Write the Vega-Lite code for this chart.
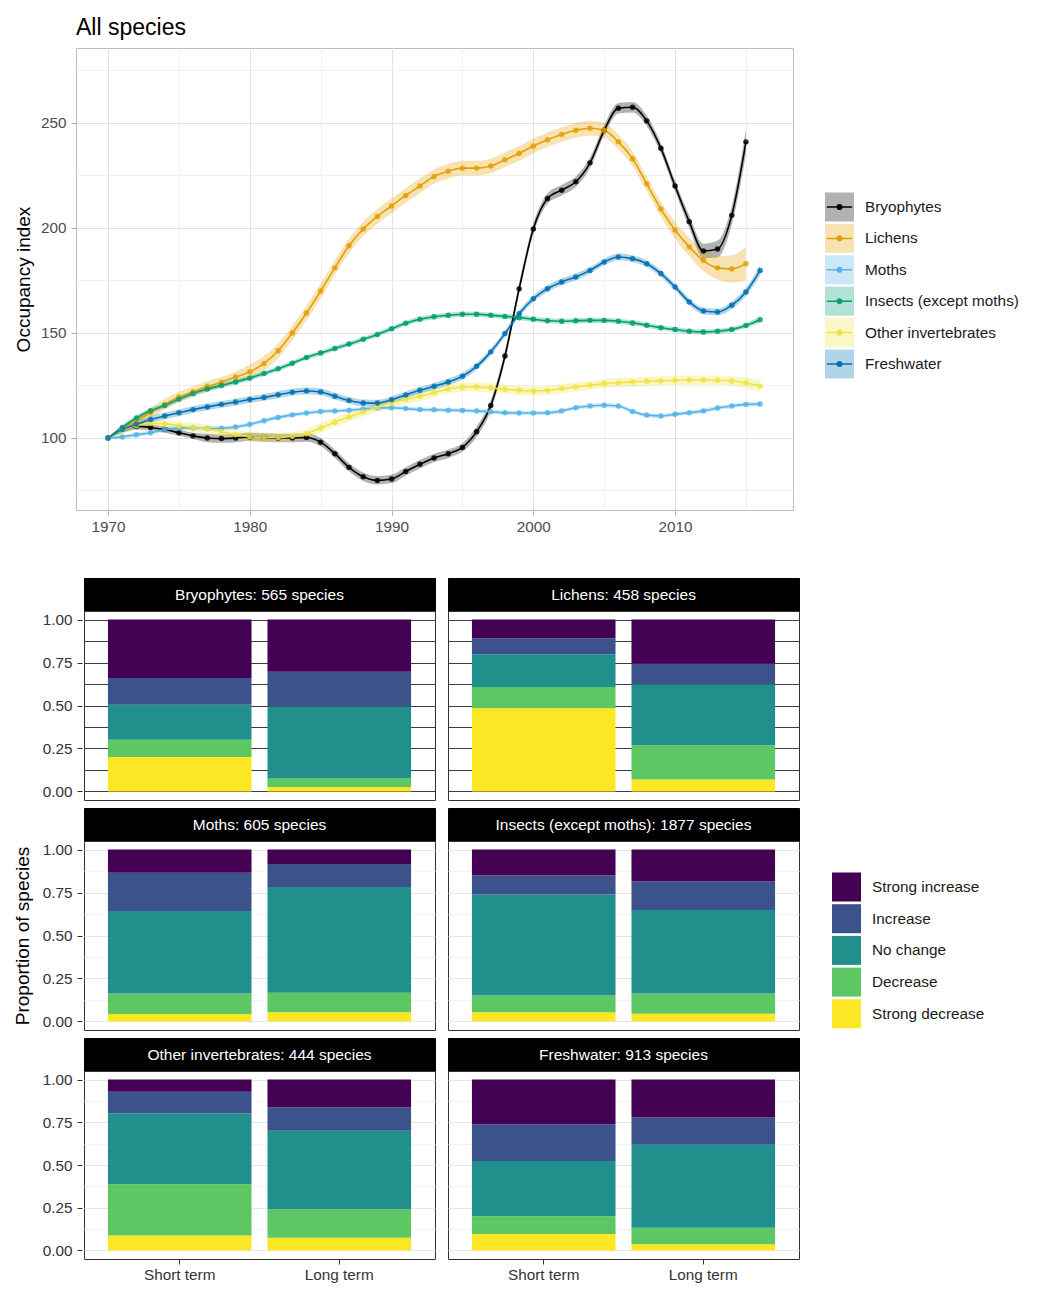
{
"$schema": "https://vega.github.io/schema/vega-lite/v6.json",
"background": "white",
"padding": {"left": 13, "top": 16, "right": 4, "bottom": 4},
"config": {
  "font": "Liberation Sans",
  "view": {"stroke": "#333333"},
  "axis": {"labelFont": "Liberation Sans", "titleFont": "Liberation Sans", "domain": false},
  "legend": {"labelFont": "Liberation Sans"},
  "title": {"font": "Liberation Sans"}
},
"datasets": {
"trend": [
{"s":"Bryophytes","yr":1970,"v":100,"lo":100,"hi":100},
{"s":"Bryophytes","yr":1971,"v":104,"lo":102.5,"hi":105.5},
{"s":"Bryophytes","yr":1972,"v":105.5,"lo":104,"hi":107},
{"s":"Bryophytes","yr":1973,"v":105,"lo":103.5,"hi":106.5},
{"s":"Bryophytes","yr":1974,"v":104,"lo":102.5,"hi":105.5},
{"s":"Bryophytes","yr":1975,"v":102.5,"lo":101,"hi":104},
{"s":"Bryophytes","yr":1976,"v":101,"lo":99.5,"hi":102.5},
{"s":"Bryophytes","yr":1977,"v":100,"lo":98,"hi":102},
{"s":"Bryophytes","yr":1978,"v":99.7,"lo":97.7,"hi":101.7},
{"s":"Bryophytes","yr":1979,"v":100,"lo":98,"hi":102},
{"s":"Bryophytes","yr":1980,"v":100.5,"lo":98.5,"hi":102.5},
{"s":"Bryophytes","yr":1981,"v":100.2,"lo":98.2,"hi":102.2},
{"s":"Bryophytes","yr":1982,"v":100,"lo":98,"hi":102},
{"s":"Bryophytes","yr":1983,"v":100,"lo":98,"hi":102},
{"s":"Bryophytes","yr":1984,"v":100.2,"lo":98.2,"hi":102.2},
{"s":"Bryophytes","yr":1985,"v":98,"lo":96,"hi":100},
{"s":"Bryophytes","yr":1986,"v":92.5,"lo":90.5,"hi":94.5},
{"s":"Bryophytes","yr":1987,"v":86,"lo":84,"hi":88},
{"s":"Bryophytes","yr":1988,"v":81.5,"lo":79.5,"hi":83.5},
{"s":"Bryophytes","yr":1989,"v":79.8,"lo":77.8,"hi":81.8},
{"s":"Bryophytes","yr":1990,"v":80.5,"lo":78.5,"hi":82.5},
{"s":"Bryophytes","yr":1991,"v":84,"lo":82,"hi":86},
{"s":"Bryophytes","yr":1992,"v":87.5,"lo":85.5,"hi":89.5},
{"s":"Bryophytes","yr":1993,"v":90.5,"lo":88.5,"hi":92.5},
{"s":"Bryophytes","yr":1994,"v":92.5,"lo":90.5,"hi":94.5},
{"s":"Bryophytes","yr":1995,"v":95.5,"lo":93.5,"hi":97.5},
{"s":"Bryophytes","yr":1996,"v":103,"lo":100.5,"hi":105.5},
{"s":"Bryophytes","yr":1997,"v":115.5,"lo":113,"hi":118},
{"s":"Bryophytes","yr":1998,"v":139,"lo":136.5,"hi":141.5},
{"s":"Bryophytes","yr":1999,"v":171,"lo":168.5,"hi":173.5},
{"s":"Bryophytes","yr":2000,"v":199.5,"lo":197,"hi":202},
{"s":"Bryophytes","yr":2001,"v":214,"lo":211.5,"hi":216.5},
{"s":"Bryophytes","yr":2002,"v":218,"lo":215.5,"hi":220.5},
{"s":"Bryophytes","yr":2003,"v":222,"lo":219.5,"hi":224.5},
{"s":"Bryophytes","yr":2004,"v":231,"lo":228.5,"hi":233.5},
{"s":"Bryophytes","yr":2005,"v":246.5,"lo":244,"hi":249},
{"s":"Bryophytes","yr":2006,"v":257,"lo":254.5,"hi":259.5},
{"s":"Bryophytes","yr":2007,"v":257.5,"lo":255,"hi":260},
{"s":"Bryophytes","yr":2008,"v":251,"lo":248.5,"hi":253.5},
{"s":"Bryophytes","yr":2009,"v":238,"lo":235.5,"hi":240.5},
{"s":"Bryophytes","yr":2010,"v":220,"lo":217.5,"hi":222.5},
{"s":"Bryophytes","yr":2011,"v":203,"lo":200,"hi":206},
{"s":"Bryophytes","yr":2012,"v":189,"lo":185.5,"hi":192.5},
{"s":"Bryophytes","yr":2013,"v":190,"lo":186,"hi":194},
{"s":"Bryophytes","yr":2014,"v":206,"lo":201.5,"hi":210.5},
{"s":"Bryophytes","yr":2015,"v":241,"lo":235,"hi":247},
{"s":"Lichens","yr":1970,"v":100,"lo":100,"hi":100},
{"s":"Lichens","yr":1971,"v":104,"lo":102.5,"hi":105.5},
{"s":"Lichens","yr":1972,"v":108,"lo":105.5,"hi":110.5},
{"s":"Lichens","yr":1973,"v":112,"lo":109.5,"hi":114.5},
{"s":"Lichens","yr":1974,"v":116,"lo":113.5,"hi":118.5},
{"s":"Lichens","yr":1975,"v":119.5,"lo":117,"hi":122},
{"s":"Lichens","yr":1976,"v":122,"lo":119.5,"hi":124.5},
{"s":"Lichens","yr":1977,"v":124.5,"lo":122,"hi":127},
{"s":"Lichens","yr":1978,"v":126.5,"lo":124,"hi":129},
{"s":"Lichens","yr":1979,"v":129,"lo":126.5,"hi":131.5},
{"s":"Lichens","yr":1980,"v":131.5,"lo":128,"hi":135},
{"s":"Lichens","yr":1981,"v":135.5,"lo":132,"hi":139},
{"s":"Lichens","yr":1982,"v":141.5,"lo":138,"hi":145},
{"s":"Lichens","yr":1983,"v":150,"lo":146.5,"hi":153.5},
{"s":"Lichens","yr":1984,"v":159.5,"lo":156,"hi":163},
{"s":"Lichens","yr":1985,"v":170,"lo":166.5,"hi":173.5},
{"s":"Lichens","yr":1986,"v":181,"lo":177.5,"hi":184.5},
{"s":"Lichens","yr":1987,"v":191.5,"lo":188,"hi":195},
{"s":"Lichens","yr":1988,"v":199.5,"lo":196,"hi":203},
{"s":"Lichens","yr":1989,"v":205.5,"lo":202,"hi":209},
{"s":"Lichens","yr":1990,"v":210.5,"lo":207,"hi":214},
{"s":"Lichens","yr":1991,"v":215.5,"lo":212,"hi":219},
{"s":"Lichens","yr":1992,"v":220,"lo":216.5,"hi":223.5},
{"s":"Lichens","yr":1993,"v":224.5,"lo":221,"hi":228},
{"s":"Lichens","yr":1994,"v":227,"lo":223.5,"hi":230.5},
{"s":"Lichens","yr":1995,"v":228.5,"lo":225,"hi":232},
{"s":"Lichens","yr":1996,"v":228.5,"lo":225,"hi":232},
{"s":"Lichens","yr":1997,"v":229.5,"lo":226,"hi":233},
{"s":"Lichens","yr":1998,"v":232.5,"lo":229,"hi":236},
{"s":"Lichens","yr":1999,"v":235.5,"lo":232,"hi":239},
{"s":"Lichens","yr":2000,"v":239,"lo":235.5,"hi":242.5},
{"s":"Lichens","yr":2001,"v":242,"lo":238.5,"hi":245.5},
{"s":"Lichens","yr":2002,"v":244.5,"lo":241,"hi":248},
{"s":"Lichens","yr":2003,"v":246.5,"lo":243,"hi":250},
{"s":"Lichens","yr":2004,"v":247.5,"lo":244,"hi":251},
{"s":"Lichens","yr":2005,"v":246.5,"lo":243,"hi":250},
{"s":"Lichens","yr":2006,"v":241,"lo":237.5,"hi":244.5},
{"s":"Lichens","yr":2007,"v":233,"lo":229.5,"hi":236.5},
{"s":"Lichens","yr":2008,"v":221,"lo":217.5,"hi":224.5},
{"s":"Lichens","yr":2009,"v":209,"lo":205.5,"hi":212.5},
{"s":"Lichens","yr":2010,"v":199,"lo":195,"hi":203},
{"s":"Lichens","yr":2011,"v":191,"lo":186.5,"hi":195.5},
{"s":"Lichens","yr":2012,"v":184.5,"lo":179.5,"hi":189.5},
{"s":"Lichens","yr":2013,"v":181,"lo":175.5,"hi":186.5},
{"s":"Lichens","yr":2014,"v":180.5,"lo":174,"hi":187},
{"s":"Lichens","yr":2015,"v":183,"lo":175,"hi":191},
{"s":"Moths","yr":1970,"v":100,"lo":100,"hi":100},
{"s":"Moths","yr":1971,"v":100.5,"lo":99.5,"hi":101.5},
{"s":"Moths","yr":1972,"v":101.5,"lo":100.5,"hi":102.5},
{"s":"Moths","yr":1973,"v":102.5,"lo":101.5,"hi":103.5},
{"s":"Moths","yr":1974,"v":104,"lo":103,"hi":105},
{"s":"Moths","yr":1975,"v":104.8,"lo":103.8,"hi":105.8},
{"s":"Moths","yr":1976,"v":104.8,"lo":103.8,"hi":105.8},
{"s":"Moths","yr":1977,"v":104.5,"lo":103.5,"hi":105.5},
{"s":"Moths","yr":1978,"v":104.6,"lo":103.6,"hi":105.6},
{"s":"Moths","yr":1979,"v":105.2,"lo":104.2,"hi":106.2},
{"s":"Moths","yr":1980,"v":106.5,"lo":105.5,"hi":107.5},
{"s":"Moths","yr":1981,"v":108.2,"lo":107.2,"hi":109.2},
{"s":"Moths","yr":1982,"v":109.8,"lo":108.8,"hi":110.8},
{"s":"Moths","yr":1983,"v":111,"lo":110,"hi":112},
{"s":"Moths","yr":1984,"v":111.9,"lo":110.9,"hi":112.9},
{"s":"Moths","yr":1985,"v":112.6,"lo":111.6,"hi":113.6},
{"s":"Moths","yr":1986,"v":112.9,"lo":111.9,"hi":113.9},
{"s":"Moths","yr":1987,"v":113.2,"lo":112.2,"hi":114.2},
{"s":"Moths","yr":1988,"v":113.8,"lo":112.8,"hi":114.8},
{"s":"Moths","yr":1989,"v":114.3,"lo":113.3,"hi":115.3},
{"s":"Moths","yr":1990,"v":114.4,"lo":113.4,"hi":115.4},
{"s":"Moths","yr":1991,"v":114,"lo":113,"hi":115},
{"s":"Moths","yr":1992,"v":113.5,"lo":112.5,"hi":114.5},
{"s":"Moths","yr":1993,"v":113.4,"lo":112.4,"hi":114.4},
{"s":"Moths","yr":1994,"v":113.2,"lo":112.2,"hi":114.2},
{"s":"Moths","yr":1995,"v":113.1,"lo":112.1,"hi":114.1},
{"s":"Moths","yr":1996,"v":112.9,"lo":111.9,"hi":113.9},
{"s":"Moths","yr":1997,"v":112.5,"lo":111.5,"hi":113.5},
{"s":"Moths","yr":1998,"v":112,"lo":111,"hi":113},
{"s":"Moths","yr":1999,"v":111.9,"lo":110.9,"hi":112.9},
{"s":"Moths","yr":2000,"v":111.9,"lo":110.9,"hi":112.9},
{"s":"Moths","yr":2001,"v":112,"lo":111,"hi":113},
{"s":"Moths","yr":2002,"v":112.9,"lo":111.9,"hi":113.9},
{"s":"Moths","yr":2003,"v":114.4,"lo":113.4,"hi":115.4},
{"s":"Moths","yr":2004,"v":115.2,"lo":114.2,"hi":116.2},
{"s":"Moths","yr":2005,"v":115.6,"lo":114.6,"hi":116.6},
{"s":"Moths","yr":2006,"v":115.2,"lo":114.2,"hi":116.2},
{"s":"Moths","yr":2007,"v":112.6,"lo":111.6,"hi":113.6},
{"s":"Moths","yr":2008,"v":110.9,"lo":109.9,"hi":111.9},
{"s":"Moths","yr":2009,"v":110.5,"lo":109.5,"hi":111.5},
{"s":"Moths","yr":2010,"v":111.3,"lo":110.3,"hi":112.3},
{"s":"Moths","yr":2011,"v":112,"lo":111,"hi":113},
{"s":"Moths","yr":2012,"v":112.9,"lo":111.9,"hi":113.9},
{"s":"Moths","yr":2013,"v":114.3,"lo":113.3,"hi":115.3},
{"s":"Moths","yr":2014,"v":115.2,"lo":114.2,"hi":116.2},
{"s":"Moths","yr":2015,"v":116,"lo":115,"hi":117},
{"s":"Moths","yr":2016,"v":116.2,"lo":115,"hi":117.4},
{"s":"Insects (except moths)","yr":1970,"v":100,"lo":100,"hi":100},
{"s":"Insects (except moths)","yr":1971,"v":105,"lo":103.8,"hi":106.2},
{"s":"Insects (except moths)","yr":1972,"v":109.5,"lo":108.3,"hi":110.7},
{"s":"Insects (except moths)","yr":1973,"v":113,"lo":111.8,"hi":114.2},
{"s":"Insects (except moths)","yr":1974,"v":115.5,"lo":114.3,"hi":116.7},
{"s":"Insects (except moths)","yr":1975,"v":118.5,"lo":117.3,"hi":119.7},
{"s":"Insects (except moths)","yr":1976,"v":121.2,"lo":120,"hi":122.4},
{"s":"Insects (except moths)","yr":1977,"v":123.3,"lo":122.1,"hi":124.5},
{"s":"Insects (except moths)","yr":1978,"v":125,"lo":123.8,"hi":126.2},
{"s":"Insects (except moths)","yr":1979,"v":126.7,"lo":125.5,"hi":127.9},
{"s":"Insects (except moths)","yr":1980,"v":128.5,"lo":127.3,"hi":129.7},
{"s":"Insects (except moths)","yr":1981,"v":130.7,"lo":129.5,"hi":131.9},
{"s":"Insects (except moths)","yr":1982,"v":133,"lo":131.8,"hi":134.2},
{"s":"Insects (except moths)","yr":1983,"v":135.6,"lo":134.4,"hi":136.8},
{"s":"Insects (except moths)","yr":1984,"v":138.3,"lo":137.1,"hi":139.5},
{"s":"Insects (except moths)","yr":1985,"v":140.5,"lo":139.3,"hi":141.7},
{"s":"Insects (except moths)","yr":1986,"v":142.6,"lo":141.4,"hi":143.8},
{"s":"Insects (except moths)","yr":1987,"v":144.7,"lo":143.5,"hi":145.9},
{"s":"Insects (except moths)","yr":1988,"v":147,"lo":145.8,"hi":148.2},
{"s":"Insects (except moths)","yr":1989,"v":149.3,"lo":148.1,"hi":150.5},
{"s":"Insects (except moths)","yr":1990,"v":152,"lo":150.8,"hi":153.2},
{"s":"Insects (except moths)","yr":1991,"v":154.6,"lo":153.4,"hi":155.8},
{"s":"Insects (except moths)","yr":1992,"v":156.5,"lo":155.3,"hi":157.7},
{"s":"Insects (except moths)","yr":1993,"v":157.7,"lo":156.5,"hi":158.9},
{"s":"Insects (except moths)","yr":1994,"v":158.4,"lo":157.2,"hi":159.6},
{"s":"Insects (except moths)","yr":1995,"v":158.9,"lo":157.7,"hi":160.1},
{"s":"Insects (except moths)","yr":1996,"v":158.9,"lo":157.7,"hi":160.1},
{"s":"Insects (except moths)","yr":1997,"v":158.4,"lo":157.2,"hi":159.6},
{"s":"Insects (except moths)","yr":1998,"v":157.9,"lo":156.7,"hi":159.1},
{"s":"Insects (except moths)","yr":1999,"v":157.3,"lo":156.1,"hi":158.5},
{"s":"Insects (except moths)","yr":2000,"v":156.5,"lo":155.3,"hi":157.7},
{"s":"Insects (except moths)","yr":2001,"v":155.8,"lo":154.6,"hi":157},
{"s":"Insects (except moths)","yr":2002,"v":155.6,"lo":154.4,"hi":156.8},
{"s":"Insects (except moths)","yr":2003,"v":155.8,"lo":154.6,"hi":157},
{"s":"Insects (except moths)","yr":2004,"v":156,"lo":154.8,"hi":157.2},
{"s":"Insects (except moths)","yr":2005,"v":156,"lo":154.8,"hi":157.2},
{"s":"Insects (except moths)","yr":2006,"v":155.6,"lo":154.4,"hi":156.8},
{"s":"Insects (except moths)","yr":2007,"v":154.8,"lo":153.6,"hi":156},
{"s":"Insects (except moths)","yr":2008,"v":153.7,"lo":152.5,"hi":154.9},
{"s":"Insects (except moths)","yr":2009,"v":152.5,"lo":151.3,"hi":153.7},
{"s":"Insects (except moths)","yr":2010,"v":151.6,"lo":150.4,"hi":152.8},
{"s":"Insects (except moths)","yr":2011,"v":150.8,"lo":149.6,"hi":152},
{"s":"Insects (except moths)","yr":2012,"v":150.5,"lo":149.3,"hi":151.7},
{"s":"Insects (except moths)","yr":2013,"v":150.8,"lo":149.6,"hi":152},
{"s":"Insects (except moths)","yr":2014,"v":151.7,"lo":150.5,"hi":152.9},
{"s":"Insects (except moths)","yr":2015,"v":153.6,"lo":152.4,"hi":154.8},
{"s":"Insects (except moths)","yr":2016,"v":156.3,"lo":154.8,"hi":157.8},
{"s":"Other invertebrates","yr":1970,"v":100,"lo":100,"hi":100},
{"s":"Other invertebrates","yr":1971,"v":103.7,"lo":101.9,"hi":105.5},
{"s":"Other invertebrates","yr":1972,"v":105.8,"lo":104,"hi":107.6},
{"s":"Other invertebrates","yr":1973,"v":107,"lo":105.2,"hi":108.8},
{"s":"Other invertebrates","yr":1974,"v":106.8,"lo":105,"hi":108.6},
{"s":"Other invertebrates","yr":1975,"v":105.8,"lo":104,"hi":107.6},
{"s":"Other invertebrates","yr":1976,"v":105,"lo":102.8,"hi":107.2},
{"s":"Other invertebrates","yr":1977,"v":104.3,"lo":102.1,"hi":106.5},
{"s":"Other invertebrates","yr":1978,"v":103,"lo":100.8,"hi":105.2},
{"s":"Other invertebrates","yr":1979,"v":101.5,"lo":99.3,"hi":103.7},
{"s":"Other invertebrates","yr":1980,"v":100.6,"lo":98.4,"hi":102.8},
{"s":"Other invertebrates","yr":1981,"v":100.2,"lo":98,"hi":102.4},
{"s":"Other invertebrates","yr":1982,"v":100.2,"lo":98,"hi":102.4},
{"s":"Other invertebrates","yr":1983,"v":100.8,"lo":98.6,"hi":103},
{"s":"Other invertebrates","yr":1984,"v":102,"lo":99.8,"hi":104.2},
{"s":"Other invertebrates","yr":1985,"v":104.8,"lo":102.6,"hi":107},
{"s":"Other invertebrates","yr":1986,"v":107.5,"lo":105.3,"hi":109.7},
{"s":"Other invertebrates","yr":1987,"v":110,"lo":107.8,"hi":112.2},
{"s":"Other invertebrates","yr":1988,"v":112.4,"lo":110.2,"hi":114.6},
{"s":"Other invertebrates","yr":1989,"v":114.7,"lo":112.5,"hi":116.9},
{"s":"Other invertebrates","yr":1990,"v":116.7,"lo":114.5,"hi":118.9},
{"s":"Other invertebrates","yr":1991,"v":118.3,"lo":116.1,"hi":120.5},
{"s":"Other invertebrates","yr":1992,"v":119.8,"lo":117.6,"hi":122},
{"s":"Other invertebrates","yr":1993,"v":121.6,"lo":119.4,"hi":123.8},
{"s":"Other invertebrates","yr":1994,"v":123.3,"lo":121.1,"hi":125.5},
{"s":"Other invertebrates","yr":1995,"v":124.2,"lo":122,"hi":126.4},
{"s":"Other invertebrates","yr":1996,"v":124.3,"lo":122.1,"hi":126.5},
{"s":"Other invertebrates","yr":1997,"v":123.8,"lo":121.6,"hi":126},
{"s":"Other invertebrates","yr":1998,"v":123.2,"lo":121,"hi":125.4},
{"s":"Other invertebrates","yr":1999,"v":122.7,"lo":120.5,"hi":124.9},
{"s":"Other invertebrates","yr":2000,"v":122.4,"lo":120.2,"hi":124.6},
{"s":"Other invertebrates","yr":2001,"v":122.7,"lo":120.5,"hi":124.9},
{"s":"Other invertebrates","yr":2002,"v":123.5,"lo":121.3,"hi":125.7},
{"s":"Other invertebrates","yr":2003,"v":124.3,"lo":122.1,"hi":126.5},
{"s":"Other invertebrates","yr":2004,"v":125.1,"lo":122.9,"hi":127.3},
{"s":"Other invertebrates","yr":2005,"v":125.9,"lo":123.7,"hi":128.1},
{"s":"Other invertebrates","yr":2006,"v":126.3,"lo":124.1,"hi":128.5},
{"s":"Other invertebrates","yr":2007,"v":126.7,"lo":124.5,"hi":128.9},
{"s":"Other invertebrates","yr":2008,"v":127,"lo":124.8,"hi":129.2},
{"s":"Other invertebrates","yr":2009,"v":127.2,"lo":125,"hi":129.4},
{"s":"Other invertebrates","yr":2010,"v":127.5,"lo":125.3,"hi":129.7},
{"s":"Other invertebrates","yr":2011,"v":127.6,"lo":125.4,"hi":129.8},
{"s":"Other invertebrates","yr":2012,"v":127.6,"lo":125.4,"hi":129.8},
{"s":"Other invertebrates","yr":2013,"v":127.5,"lo":125.3,"hi":129.7},
{"s":"Other invertebrates","yr":2014,"v":127.1,"lo":124.9,"hi":129.3},
{"s":"Other invertebrates","yr":2015,"v":126.2,"lo":123.6,"hi":128.8},
{"s":"Other invertebrates","yr":2016,"v":124.8,"lo":121.8,"hi":127.8},
{"s":"Freshwater","yr":1970,"v":100,"lo":100,"hi":100},
{"s":"Freshwater","yr":1971,"v":104,"lo":102.4,"hi":105.6},
{"s":"Freshwater","yr":1972,"v":106.5,"lo":104.9,"hi":108.1},
{"s":"Freshwater","yr":1973,"v":108.8,"lo":107.2,"hi":110.4},
{"s":"Freshwater","yr":1974,"v":110.5,"lo":108.9,"hi":112.1},
{"s":"Freshwater","yr":1975,"v":112,"lo":110.4,"hi":113.6},
{"s":"Freshwater","yr":1976,"v":113.5,"lo":111.9,"hi":115.1},
{"s":"Freshwater","yr":1977,"v":114.8,"lo":113.2,"hi":116.4},
{"s":"Freshwater","yr":1978,"v":116,"lo":114.4,"hi":117.6},
{"s":"Freshwater","yr":1979,"v":117.1,"lo":115.5,"hi":118.7},
{"s":"Freshwater","yr":1980,"v":118.3,"lo":116.7,"hi":119.9},
{"s":"Freshwater","yr":1981,"v":119.3,"lo":117.7,"hi":120.9},
{"s":"Freshwater","yr":1982,"v":120.6,"lo":119,"hi":122.2},
{"s":"Freshwater","yr":1983,"v":121.8,"lo":120.2,"hi":123.4},
{"s":"Freshwater","yr":1984,"v":122.4,"lo":120.8,"hi":124},
{"s":"Freshwater","yr":1985,"v":121.9,"lo":120.3,"hi":123.5},
{"s":"Freshwater","yr":1986,"v":119.9,"lo":118.3,"hi":121.5},
{"s":"Freshwater","yr":1987,"v":117.9,"lo":116.3,"hi":119.5},
{"s":"Freshwater","yr":1988,"v":116.7,"lo":115.1,"hi":118.3},
{"s":"Freshwater","yr":1989,"v":116.6,"lo":115,"hi":118.2},
{"s":"Freshwater","yr":1990,"v":118.2,"lo":116.6,"hi":119.8},
{"s":"Freshwater","yr":1991,"v":120.5,"lo":118.9,"hi":122.1},
{"s":"Freshwater","yr":1992,"v":122.7,"lo":121.1,"hi":124.3},
{"s":"Freshwater","yr":1993,"v":124.6,"lo":123,"hi":126.2},
{"s":"Freshwater","yr":1994,"v":126.7,"lo":125.1,"hi":128.3},
{"s":"Freshwater","yr":1995,"v":129.4,"lo":127.8,"hi":131},
{"s":"Freshwater","yr":1996,"v":134.1,"lo":132.5,"hi":135.7},
{"s":"Freshwater","yr":1997,"v":141,"lo":139.4,"hi":142.6},
{"s":"Freshwater","yr":1998,"v":149.7,"lo":148.1,"hi":151.3},
{"s":"Freshwater","yr":1999,"v":159.2,"lo":157.6,"hi":160.8},
{"s":"Freshwater","yr":2000,"v":166.3,"lo":164.7,"hi":167.9},
{"s":"Freshwater","yr":2001,"v":171.1,"lo":169.5,"hi":172.7},
{"s":"Freshwater","yr":2002,"v":174.3,"lo":172.7,"hi":175.9},
{"s":"Freshwater","yr":2003,"v":176.7,"lo":175.1,"hi":178.3},
{"s":"Freshwater","yr":2004,"v":179.8,"lo":178.2,"hi":181.4},
{"s":"Freshwater","yr":2005,"v":183.8,"lo":182.2,"hi":185.4},
{"s":"Freshwater","yr":2006,"v":186.2,"lo":184.6,"hi":187.8},
{"s":"Freshwater","yr":2007,"v":185.4,"lo":183.8,"hi":187},
{"s":"Freshwater","yr":2008,"v":183,"lo":181.4,"hi":184.6},
{"s":"Freshwater","yr":2009,"v":178.3,"lo":176.7,"hi":179.9},
{"s":"Freshwater","yr":2010,"v":171.9,"lo":170.3,"hi":173.5},
{"s":"Freshwater","yr":2011,"v":164.8,"lo":163.2,"hi":166.4},
{"s":"Freshwater","yr":2012,"v":160.5,"lo":158.9,"hi":162.1},
{"s":"Freshwater","yr":2013,"v":160,"lo":158.4,"hi":161.6},
{"s":"Freshwater","yr":2014,"v":163.2,"lo":161.4,"hi":165},
{"s":"Freshwater","yr":2015,"v":169.5,"lo":167.5,"hi":171.5},
{"s":"Freshwater","yr":2016,"v":179.8,"lo":177.3,"hi":182.3}
],
"bars": [
{"g":"Bryophytes","t":"Short term","c":"Strong decrease","k":1,"p":0.2},
{"g":"Bryophytes","t":"Short term","c":"Decrease","k":2,"p":0.1},
{"g":"Bryophytes","t":"Short term","c":"No change","k":3,"p":0.205},
{"g":"Bryophytes","t":"Short term","c":"Increase","k":4,"p":0.155},
{"g":"Bryophytes","t":"Short term","c":"Strong increase","k":5,"p":0.34},
{"g":"Bryophytes","t":"Long term","c":"Strong decrease","k":1,"p":0.025},
{"g":"Bryophytes","t":"Long term","c":"Decrease","k":2,"p":0.053},
{"g":"Bryophytes","t":"Long term","c":"No change","k":3,"p":0.416},
{"g":"Bryophytes","t":"Long term","c":"Increase","k":4,"p":0.202},
{"g":"Bryophytes","t":"Long term","c":"Strong increase","k":5,"p":0.304},
{"g":"Lichens","t":"Short term","c":"Strong decrease","k":1,"p":0.484},
{"g":"Lichens","t":"Short term","c":"Decrease","k":2,"p":0.124},
{"g":"Lichens","t":"Short term","c":"No change","k":3,"p":0.19},
{"g":"Lichens","t":"Short term","c":"Increase","k":4,"p":0.094},
{"g":"Lichens","t":"Short term","c":"Strong increase","k":5,"p":0.108},
{"g":"Lichens","t":"Long term","c":"Strong decrease","k":1,"p":0.069},
{"g":"Lichens","t":"Long term","c":"Decrease","k":2,"p":0.2},
{"g":"Lichens","t":"Long term","c":"No change","k":3,"p":0.355},
{"g":"Lichens","t":"Long term","c":"Increase","k":4,"p":0.121},
{"g":"Lichens","t":"Long term","c":"Strong increase","k":5,"p":0.255},
{"g":"Moths","t":"Short term","c":"Strong decrease","k":1,"p":0.043},
{"g":"Moths","t":"Short term","c":"Decrease","k":2,"p":0.12},
{"g":"Moths","t":"Short term","c":"No change","k":3,"p":0.48},
{"g":"Moths","t":"Short term","c":"Increase","k":4,"p":0.222},
{"g":"Moths","t":"Short term","c":"Strong increase","k":5,"p":0.135},
{"g":"Moths","t":"Long term","c":"Strong decrease","k":1,"p":0.053},
{"g":"Moths","t":"Long term","c":"Decrease","k":2,"p":0.114},
{"g":"Moths","t":"Long term","c":"No change","k":3,"p":0.615},
{"g":"Moths","t":"Long term","c":"Increase","k":4,"p":0.134},
{"g":"Moths","t":"Long term","c":"Strong increase","k":5,"p":0.084},
{"g":"Insects (except moths)","t":"Short term","c":"Strong decrease","k":1,"p":0.053},
{"g":"Insects (except moths)","t":"Short term","c":"Decrease","k":2,"p":0.098},
{"g":"Insects (except moths)","t":"Short term","c":"No change","k":3,"p":0.588},
{"g":"Insects (except moths)","t":"Short term","c":"Increase","k":4,"p":0.11},
{"g":"Insects (except moths)","t":"Short term","c":"Strong increase","k":5,"p":0.151},
{"g":"Insects (except moths)","t":"Long term","c":"Strong decrease","k":1,"p":0.045},
{"g":"Insects (except moths)","t":"Long term","c":"Decrease","k":2,"p":0.118},
{"g":"Insects (except moths)","t":"Long term","c":"No change","k":3,"p":0.486},
{"g":"Insects (except moths)","t":"Long term","c":"Increase","k":4,"p":0.165},
{"g":"Insects (except moths)","t":"Long term","c":"Strong increase","k":5,"p":0.186},
{"g":"Other invertebrates","t":"Short term","c":"Strong decrease","k":1,"p":0.088},
{"g":"Other invertebrates","t":"Short term","c":"Decrease","k":2,"p":0.3},
{"g":"Other invertebrates","t":"Short term","c":"No change","k":3,"p":0.414},
{"g":"Other invertebrates","t":"Short term","c":"Increase","k":4,"p":0.127},
{"g":"Other invertebrates","t":"Short term","c":"Strong increase","k":5,"p":0.071},
{"g":"Other invertebrates","t":"Long term","c":"Strong decrease","k":1,"p":0.075},
{"g":"Other invertebrates","t":"Long term","c":"Decrease","k":2,"p":0.166},
{"g":"Other invertebrates","t":"Long term","c":"No change","k":3,"p":0.459},
{"g":"Other invertebrates","t":"Long term","c":"Increase","k":4,"p":0.137},
{"g":"Other invertebrates","t":"Long term","c":"Strong increase","k":5,"p":0.163},
{"g":"Freshwater","t":"Short term","c":"Strong decrease","k":1,"p":0.096},
{"g":"Freshwater","t":"Short term","c":"Decrease","k":2,"p":0.104},
{"g":"Freshwater","t":"Short term","c":"No change","k":3,"p":0.324},
{"g":"Freshwater","t":"Short term","c":"Increase","k":4,"p":0.215},
{"g":"Freshwater","t":"Short term","c":"Strong increase","k":5,"p":0.261},
{"g":"Freshwater","t":"Long term","c":"Strong decrease","k":1,"p":0.037},
{"g":"Freshwater","t":"Long term","c":"Decrease","k":2,"p":0.096},
{"g":"Freshwater","t":"Long term","c":"No change","k":3,"p":0.485},
{"g":"Freshwater","t":"Long term","c":"Increase","k":4,"p":0.16},
{"g":"Freshwater","t":"Long term","c":"Strong increase","k":5,"p":0.222}
],
"strips": [
{"g":"Bryophytes","lab":"Bryophytes: 565 species"},
{"g":"Lichens","lab":"Lichens: 458 species"},
{"g":"Moths","lab":"Moths: 605 species"},
{"g":"Insects (except moths)","lab":"Insects (except moths): 1877 species"},
{"g":"Other invertebrates","lab":"Other invertebrates: 444 species"},
{"g":"Freshwater","lab":"Freshwater: 913 species"}
]
},
"resolve": {"scale": {"color": "independent", "fill": "independent", "stroke": "independent"}},
"spacing": 42,
"vconcat": [
{
  "width": 717, "height": 462,
  "title": {"text": "All species", "anchor": "start", "frame": "group", "fontSize": 23, "fontWeight": "normal", "color": "#000000", "offset": 8},
  "view": {"stroke": "#bdbdbd"},
  "data": {"name": "trend"},
  "encoding": {
    "x": {"field": "yr", "type": "quantitative",
      "scale": {"domain": [1967.74, 2018.32], "nice": false, "zero": false},
      "axis": {"values": [1970,1975,1980,1985,1990,1995,2000,2005,2010,2015], "format": "d",
        "labelExpr": "datum.value % 10 === 0 ? datum.label : ''",
        "title": null, "labelFontSize": 15.3, "labelColor": "#4d4d4d", "labelPadding": 4, "labelOverlap": false, "labelFlush": false,
        "tickSize": 5, "tickColor": "#adadad",
        "tickOpacity": {"condition": {"test": "datum.value % 10 === 0", "value": 1}, "value": 0},
        "gridColor": {"condition": {"test": "datum.value % 10 === 0", "value": "#e2e2e2"}, "value": "#f0f0f0"}}}
  },
  "layer": [
    {"mark": {"type": "area", "interpolate": "monotone", "opacity": 0.3},
     "encoding": {
       "y": {"field": "lo", "type": "quantitative", "title": "Occupancy index",
         "scale": {"domain": [65.7, 285.7], "nice": false, "zero": false},
         "axis": {"values": [75,100,125,150,175,200,225,250,275],
           "labelExpr": "datum.value % 50 === 0 ? datum.label : ''",
           "titleFontSize": 19, "titleFontWeight": "normal", "titleColor": "#000000", "titlePadding": 6.5,
           "labelFontSize": 15.3, "labelColor": "#4d4d4d", "labelPadding": 5, "labelOverlap": false,
           "tickSize": 5, "tickColor": "#adadad",
           "tickOpacity": {"condition": {"test": "datum.value % 50 === 0", "value": 1}, "value": 0},
           "gridColor": {"condition": {"test": "datum.value % 50 === 0", "value": "#e2e2e2"}, "value": "#f0f0f0"}}},
       "y2": {"field": "hi"},
       "fill": {"field": "s", "type": "nominal",
         "scale": {"domain": ["Bryophytes","Lichens","Moths","Insects (except moths)","Other invertebrates","Freshwater"],
                   "range": ["#000000","#E69F00","#56B4E9","#009E73","#F0E442","#0072B2"]},
         "legend": {"orient": "none", "legendX": 749, "legendY": 144.5, "title": null,
           "symbolType": "square", "symbolSize": 841, "symbolOpacity": 0.3, "symbolStrokeWidth": 0,
           "labelFontSize": 15.3, "labelColor": "#1a1a1a", "labelOffset": 11, "rowPadding": 2.4, "labelLimit": 300}}
     }},
    {"mark": {"type": "line", "interpolate": "monotone", "strokeWidth": 1.6},
     "encoding": {
       "y": {"field": "v", "type": "quantitative", "title": "Occupancy index"},
       "stroke": {"field": "s", "type": "nominal",
         "sort": ["Bryophytes","Lichens","Moths","Insects (except moths)","Other invertebrates","Freshwater"],
         "scale": {"range": ["#000000","#E69F00","#56B4E9","#009E73","#F0E442","#0072B2"]},
         "legend": {"orient": "none", "legendX": 749, "legendY": 144.5, "title": null,
           "symbolType": "M0,-0.778M0,0.778M-0.92,0L0.92,0M0.167,0A0.167,0.167,0,1,1,-0.167,0A0.167,0.167,0,1,1,0.167,0M0.109,0A0.109,0.109,0,1,1,-0.109,0A0.109,0.109,0,1,1,0.109,0M0.044,0A0.044,0.044,0,1,1,-0.044,0A0.044,0.044,0,1,1,0.044,0",
           "symbolSize": 756, "symbolStrokeWidth": 1.5,
           "labelExpr": "''", "labelFontSize": 15.3, "labelOffset": 11, "rowPadding": 2.4}}
     }},
    {"mark": {"type": "point", "filled": true, "size": 30, "opacity": 0.85},
     "encoding": {
       "y": {"field": "v", "type": "quantitative", "title": "Occupancy index"},
       "color": {"field": "s", "type": "nominal",
         "scale": {"domain": ["Bryophytes","Lichens","Moths","Insects (except moths)","Other invertebrates","Freshwater"],
                   "range": ["#000000","#E69F00","#56B4E9","#009E73","#F0E442","#0072B2"]},
         "legend": null}
     }}
  ]
},
{
  "spacing": 6,
  "resolve": {"scale": {"color": "independent"}},
  "vconcat": [
    {"spacing": 0, "resolve": {"scale": {"color": "independent"}}, "hconcat": [
      {"spacing": 0, "bounds": "flush", "vconcat": [
        {"width": 6, "height": 33, "view": {"stroke": null}, "data": {"values": [{}]}, "mark": {"type": "point", "opacity": 0}, "encoding": {}},
        {"width": 6, "height": 189, "view": {"stroke": null}, "data": {"name": "bars"},
         "transform": [{"filter": {"field": "g", "equal": "Bryophytes"}}],
         "mark": {"type": "point", "opacity": 0},
         "encoding": {"y": {"field": "p", "type": "quantitative", "scale": {"domain": [-0.05, 1.05], "nice": false, "zero": false},
           "axis": {"values": [0,0.125,0.25,0.375,0.5,0.625,0.75,0.875,1], "format": ".2f", "labelExpr": "datum.value * 4 % 1 === 0 ? datum.label : ''",
             "offset": -6, "grid": false,
             "title": "Proportion of species", "titleOpacity": 0, "titleFontSize": 19, "titleFontWeight": "normal", "titlePadding": 10,
             "labelFontSize": 15.3, "labelColor": "#333333", "labelPadding": 5, "labelOverlap": false,
             "tickSize": 5, "tickColor": "#333333", "tickOpacity": {"condition": {"test": "datum.value * 4 % 1 === 0", "value": 1}, "value": 0}}}}}
      ]},
      {"spacing": 11, "resolve": {"scale": {"color": "independent"}}, "hconcat": [
        {"spacing": 0, "bounds": "flush", "resolve": {"scale": {"color": "independent"}}, "vconcat": [
          {"width": 351, "height": 33, "view": {"fill": "#000000", "stroke": "#000000"}, "data": {"name": "strips"},
           "transform": [{"filter": {"field": "g", "equal": "Bryophytes"}}],
           "mark": {"type": "text", "color": "#ffffff", "fontSize": 15.5, "baseline": "middle", "align": "center"},
           "encoding": {"text": {"field": "lab", "type": "nominal"}}},
          {"width": 351, "height": 189, "view": {"stroke": "#333333"}, "data": {"name": "bars"},
           "transform": [{"filter": {"field": "g", "equal": "Bryophytes"}}],
           "mark": {"type": "bar"},
           "encoding": {
             "x": {"field": "t", "type": "nominal", "scale": {"domain": ["Short term","Long term"], "paddingInner": 0.1, "paddingOuter": 0.15}, "axis": null},
             "y": {"field": "p", "type": "quantitative", "stack": "zero", "scale": {"domain": [-0.05, 1.05], "nice": false, "zero": false},
               "axis": {"values": [0,0.125,0.25,0.375,0.5,0.625,0.75,0.875,1], "labels": false, "ticks": false, "title": null, "gridColor": "#3d3d3d"}},
             "color": {"field": "c", "type": "nominal", "scale": {"domain": ["Strong increase","Increase","No change","Decrease","Strong decrease"], "range": ["#440154","#3B528B","#21908C","#5DC863","#FDE725"]}, "legend": null},
             "order": {"field": "k", "type": "quantitative"}}}
        ]},
        {"spacing": 0, "bounds": "flush", "resolve": {"scale": {"color": "independent"}}, "vconcat": [
          {"width": 351, "height": 33, "view": {"fill": "#000000", "stroke": "#000000"}, "data": {"name": "strips"},
           "transform": [{"filter": {"field": "g", "equal": "Lichens"}}],
           "mark": {"type": "text", "color": "#ffffff", "fontSize": 15.5, "baseline": "middle", "align": "center"},
           "encoding": {"text": {"field": "lab", "type": "nominal"}}},
          {"width": 351, "height": 189, "view": {"stroke": "#333333"}, "data": {"name": "bars"},
           "transform": [{"filter": {"field": "g", "equal": "Lichens"}}],
           "mark": {"type": "bar"},
           "encoding": {
             "x": {"field": "t", "type": "nominal", "scale": {"domain": ["Short term","Long term"], "paddingInner": 0.1, "paddingOuter": 0.15}, "axis": null},
             "y": {"field": "p", "type": "quantitative", "stack": "zero", "scale": {"domain": [-0.05, 1.05], "nice": false, "zero": false},
               "axis": {"values": [0,0.125,0.25,0.375,0.5,0.625,0.75,0.875,1], "labels": false, "ticks": false, "title": null, "gridColor": "#3d3d3d"}},
             "color": {"field": "c", "type": "nominal", "scale": {"domain": ["Strong increase","Increase","No change","Decrease","Strong decrease"], "range": ["#440154","#3B528B","#21908C","#5DC863","#FDE725"]}, "legend": null},
             "order": {"field": "k", "type": "quantitative"}}}
        ]}
      ]}
    ]},
    {"spacing": 0, "resolve": {"scale": {"color": "independent"}}, "hconcat": [
      {"spacing": 0, "bounds": "flush", "vconcat": [
        {"width": 6, "height": 33, "view": {"stroke": null}, "data": {"values": [{}]}, "mark": {"type": "point", "opacity": 0}, "encoding": {}},
        {"width": 6, "height": 189, "view": {"stroke": null}, "data": {"name": "bars"},
         "transform": [{"filter": {"field": "g", "equal": "Moths"}}],
         "mark": {"type": "point", "opacity": 0},
         "encoding": {"y": {"field": "p", "type": "quantitative", "scale": {"domain": [-0.05, 1.05], "nice": false, "zero": false},
           "axis": {"values": [0,0.125,0.25,0.375,0.5,0.625,0.75,0.875,1], "format": ".2f", "labelExpr": "datum.value * 4 % 1 === 0 ? datum.label : ''",
             "offset": -6, "grid": false,
             "title": "Proportion of species", "titleColor": "#000000", "titleFontSize": 19, "titleFontWeight": "normal", "titlePadding": 10,
             "labelFontSize": 15.3, "labelColor": "#333333", "labelPadding": 5, "labelOverlap": false,
             "tickSize": 5, "tickColor": "#333333", "tickOpacity": {"condition": {"test": "datum.value * 4 % 1 === 0", "value": 1}, "value": 0}}}}}
      ]},
      {"spacing": 11, "resolve": {"scale": {"color": "independent"}}, "hconcat": [
        {"spacing": 0, "bounds": "flush", "resolve": {"scale": {"color": "independent"}}, "vconcat": [
          {"width": 351, "height": 33, "view": {"fill": "#000000", "stroke": "#000000"}, "data": {"name": "strips"},
           "transform": [{"filter": {"field": "g", "equal": "Moths"}}],
           "mark": {"type": "text", "color": "#ffffff", "fontSize": 15.5, "baseline": "middle", "align": "center"},
           "encoding": {"text": {"field": "lab", "type": "nominal"}}},
          {"width": 351, "height": 189, "view": {"stroke": "#333333"}, "data": {"name": "bars"},
           "transform": [{"filter": {"field": "g", "equal": "Moths"}}],
           "mark": {"type": "bar"},
           "encoding": {
             "x": {"field": "t", "type": "nominal", "scale": {"domain": ["Short term","Long term"], "paddingInner": 0.1, "paddingOuter": 0.15}, "axis": null},
             "y": {"field": "p", "type": "quantitative", "stack": "zero", "scale": {"domain": [-0.05, 1.05], "nice": false, "zero": false},
               "axis": {"values": [0,0.125,0.25,0.375,0.5,0.625,0.75,0.875,1], "labels": false, "ticks": false, "title": null,
                 "gridColor": {"condition": {"test": "datum.value * 4 % 1 === 0", "value": "#e6e6e6"}, "value": "#f3f3f3"}}},
             "color": {"field": "c", "type": "nominal", "scale": {"domain": ["Strong increase","Increase","No change","Decrease","Strong decrease"], "range": ["#440154","#3B528B","#21908C","#5DC863","#FDE725"]}, "legend": null},
             "order": {"field": "k", "type": "quantitative"}}}
        ]},
        {"spacing": 0, "bounds": "flush", "resolve": {"scale": {"color": "independent"}}, "vconcat": [
          {"width": 351, "height": 33, "view": {"fill": "#000000", "stroke": "#000000"}, "data": {"name": "strips"},
           "transform": [{"filter": {"field": "g", "equal": "Insects (except moths)"}}],
           "mark": {"type": "text", "color": "#ffffff", "fontSize": 15.5, "baseline": "middle", "align": "center"},
           "encoding": {"text": {"field": "lab", "type": "nominal"}}},
          {"width": 351, "height": 189, "view": {"stroke": "#333333"}, "data": {"name": "bars"},
           "transform": [{"filter": {"field": "g", "equal": "Insects (except moths)"}}],
           "mark": {"type": "bar"},
           "encoding": {
             "x": {"field": "t", "type": "nominal", "scale": {"domain": ["Short term","Long term"], "paddingInner": 0.1, "paddingOuter": 0.15}, "axis": null},
             "y": {"field": "p", "type": "quantitative", "stack": "zero", "scale": {"domain": [-0.05, 1.05], "nice": false, "zero": false},
               "axis": {"values": [0,0.125,0.25,0.375,0.5,0.625,0.75,0.875,1], "labels": false, "ticks": false, "title": null,
                 "gridColor": {"condition": {"test": "datum.value * 4 % 1 === 0", "value": "#e6e6e6"}, "value": "#f3f3f3"}}},
             "color": {"field": "c", "type": "nominal", "scale": {"domain": ["Strong increase","Increase","No change","Decrease","Strong decrease"], "range": ["#440154","#3B528B","#21908C","#5DC863","#FDE725"]},
               "legend": {"orient": "none", "legendX": 384, "legendY": 31.5, "title": null, "symbolType": "square", "symbolSize": 841, "symbolStrokeWidth": 0, "symbolOpacity": 1,
                 "labelFontSize": 15.3, "labelColor": "#1a1a1a", "labelOffset": 11, "rowPadding": 2.7, "labelLimit": 300}},
             "order": {"field": "k", "type": "quantitative"}}}
        ]}
      ]}
    ]},
    {"spacing": 0, "resolve": {"scale": {"color": "independent"}}, "hconcat": [
      {"spacing": 0, "bounds": "flush", "vconcat": [
        {"width": 6, "height": 33, "view": {"stroke": null}, "data": {"values": [{}]}, "mark": {"type": "point", "opacity": 0}, "encoding": {}},
        {"width": 6, "height": 188, "view": {"stroke": null}, "data": {"name": "bars"},
         "transform": [{"filter": {"field": "g", "equal": "Other invertebrates"}}],
         "mark": {"type": "point", "opacity": 0},
         "encoding": {"y": {"field": "p", "type": "quantitative", "scale": {"domain": [-0.05, 1.05], "nice": false, "zero": false},
           "axis": {"values": [0,0.125,0.25,0.375,0.5,0.625,0.75,0.875,1], "format": ".2f", "labelExpr": "datum.value * 4 % 1 === 0 ? datum.label : ''",
             "offset": -6, "grid": false,
             "title": "Proportion of species", "titleOpacity": 0, "titleFontSize": 19, "titleFontWeight": "normal", "titlePadding": 10,
             "labelFontSize": 15.3, "labelColor": "#333333", "labelPadding": 5, "labelOverlap": false,
             "tickSize": 5, "tickColor": "#333333", "tickOpacity": {"condition": {"test": "datum.value * 4 % 1 === 0", "value": 1}, "value": 0}}}}}
      ]},
      {"spacing": 11, "resolve": {"scale": {"color": "independent"}}, "hconcat": [
        {"spacing": 0, "bounds": "flush", "resolve": {"scale": {"color": "independent"}}, "vconcat": [
          {"width": 351, "height": 33, "view": {"fill": "#000000", "stroke": "#000000"}, "data": {"name": "strips"},
           "transform": [{"filter": {"field": "g", "equal": "Other invertebrates"}}],
           "mark": {"type": "text", "color": "#ffffff", "fontSize": 15.5, "baseline": "middle", "align": "center"},
           "encoding": {"text": {"field": "lab", "type": "nominal"}}},
          {"width": 351, "height": 188, "view": {"stroke": "#333333"}, "data": {"name": "bars"},
           "transform": [{"filter": {"field": "g", "equal": "Other invertebrates"}}],
           "mark": {"type": "bar"},
           "encoding": {
             "x": {"field": "t", "type": "nominal", "scale": {"domain": ["Short term","Long term"], "paddingInner": 0.1, "paddingOuter": 0.15},
               "axis": {"title": null, "labelAngle": 0, "labelFontSize": 15.3, "labelColor": "#333333", "labelPadding": 3, "tickSize": 5, "tickColor": "#333333", "grid": false}},
             "y": {"field": "p", "type": "quantitative", "stack": "zero", "scale": {"domain": [-0.05, 1.05], "nice": false, "zero": false},
               "axis": {"values": [0,0.125,0.25,0.375,0.5,0.625,0.75,0.875,1], "labels": false, "ticks": false, "title": null,
                 "gridColor": {"condition": {"test": "datum.value * 4 % 1 === 0", "value": "#e6e6e6"}, "value": "#f3f3f3"}}},
             "color": {"field": "c", "type": "nominal", "scale": {"domain": ["Strong increase","Increase","No change","Decrease","Strong decrease"], "range": ["#440154","#3B528B","#21908C","#5DC863","#FDE725"]}, "legend": null},
             "order": {"field": "k", "type": "quantitative"}}}
        ]},
        {"spacing": 0, "bounds": "flush", "resolve": {"scale": {"color": "independent"}}, "vconcat": [
          {"width": 351, "height": 33, "view": {"fill": "#000000", "stroke": "#000000"}, "data": {"name": "strips"},
           "transform": [{"filter": {"field": "g", "equal": "Freshwater"}}],
           "mark": {"type": "text", "color": "#ffffff", "fontSize": 15.5, "baseline": "middle", "align": "center"},
           "encoding": {"text": {"field": "lab", "type": "nominal"}}},
          {"width": 351, "height": 188, "view": {"stroke": "#333333"}, "data": {"name": "bars"},
           "transform": [{"filter": {"field": "g", "equal": "Freshwater"}}],
           "mark": {"type": "bar"},
           "encoding": {
             "x": {"field": "t", "type": "nominal", "scale": {"domain": ["Short term","Long term"], "paddingInner": 0.1, "paddingOuter": 0.15},
               "axis": {"title": null, "labelAngle": 0, "labelFontSize": 15.3, "labelColor": "#333333", "labelPadding": 3, "tickSize": 5, "tickColor": "#333333", "grid": false}},
             "y": {"field": "p", "type": "quantitative", "stack": "zero", "scale": {"domain": [-0.05, 1.05], "nice": false, "zero": false},
               "axis": {"values": [0,0.125,0.25,0.375,0.5,0.625,0.75,0.875,1], "labels": false, "ticks": false, "title": null,
                 "gridColor": {"condition": {"test": "datum.value * 4 % 1 === 0", "value": "#e6e6e6"}, "value": "#f3f3f3"}}},
             "color": {"field": "c", "type": "nominal", "scale": {"domain": ["Strong increase","Increase","No change","Decrease","Strong decrease"], "range": ["#440154","#3B528B","#21908C","#5DC863","#FDE725"]}, "legend": null},
             "order": {"field": "k", "type": "quantitative"}}}
        ]}
      ]}
    ]}
  ]
}
]
}
